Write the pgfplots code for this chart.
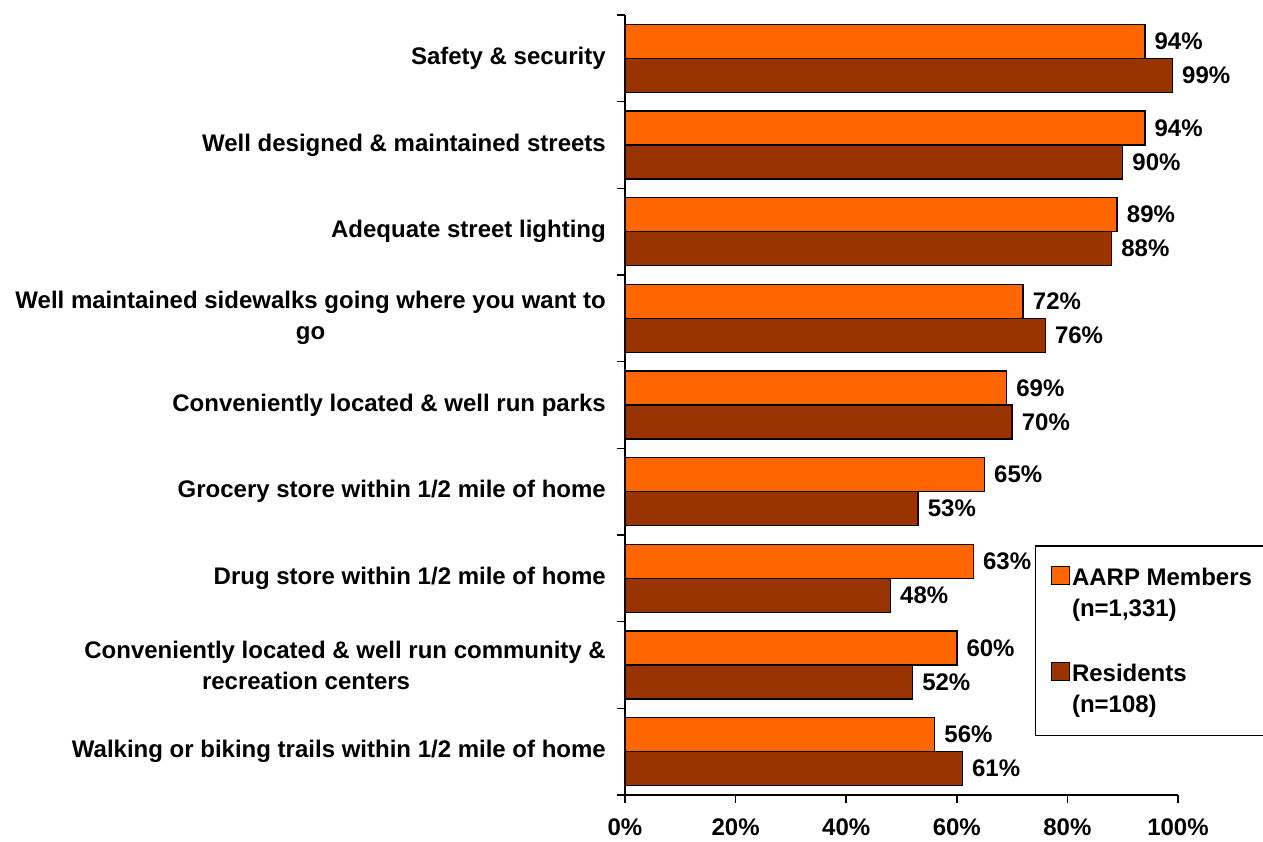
\documentclass[border=0pt]{standalone}
\usepackage{pgfplots}
\pgfplotsset{compat=1.18}
\usepackage{fontspec}
\setmainfont{Liberation Sans}
\definecolor{aarp}{HTML}{FF6600}
\definecolor{res}{HTML}{993300}
\newcommand\lf{\bfseries\fontsize{24}{31}\selectfont}
\begin{document}
\begin{tikzpicture}
\path[use as bounding box] (-625pt,-47pt) rectangle (638pt,795pt);
\begin{axis}[
  scale only axis, width=553pt, height=780pt,
  xbar, bar width=34pt,
  xmin=0, xmax=100, ymin=-0.5, ymax=8.5,
  axis x line*=bottom, axis y line*=left,
  axis line style={line width=1.5pt},
  tick style={line width=1.5pt, black},
  tick align=outside, major tick length=8pt,
  xtick={0,20,...,100},
  xticklabels={0\%,20\%,40\%,60\%,80\%,100\%},
  xticklabel style={font=\lf, yshift=-12pt},
  ytick={-0.5,0.5,...,8.5},
  yticklabels={},
  extra y ticks={0,1,2,3,4,5,6,7,8},
  extra y tick labels={
    Walking or biking trails within 1/2 mile of home,
    {Conveniently located \& well run community \&\\recreation centers\hspace*{78pt}},
    Drug store within 1/2 mile of home,
    Grocery store within 1/2 mile of home,
    Conveniently located \& well run parks,
    {Well maintained sidewalks going where you want to\\go},
    Adequate street lighting,
    Well designed \& maintained streets,
    Safety \& security},
  extra y tick style={major tick length=0pt, major tick style={draw=none},
    yticklabel style={font=\lf, align=center, inner sep=0pt, xshift=-19pt}},
  /pgf/number format/assume math mode=true,
  point meta=x,
  nodes near coords={\pgfmathprintnumber{\pgfplotspointmeta}\%},
  every node near coord/.append style={font=\lf, anchor=west, inner sep=0pt, xshift=9pt, black},
  legend style={at={(0.741,0.3205)}, anchor=north west, draw=black, line width=1.5pt,
    fill=white, font=\lf, cells={align=left, anchor=base west}, inner xsep=15pt, inner ysep=20pt,
    row sep=42pt},
  legend cell align=left,
  legend image code/.code={\draw[#1,draw=black,line width=1.5pt] (0pt,8pt) rectangle (18pt,26pt);},
]
\addplot[fill=aarp, draw=black, line width=1.5pt, bar shift=17pt] coordinates {
  (56,0) (60,1) (63,2) (65,3) (69,4) (72,5) (89,6) (94,7) (94,8)};
\addlegendentry{AARP Members\\(n=1,331)}
\addplot[fill=res, draw=black, line width=1.5pt, bar shift=-17pt] coordinates {
  (61,0) (52,1) (48,2) (53,3) (70,4) (76,5) (88,6) (90,7) (99,8)};
\addlegendentry{Residents\\(n=108)}
\end{axis}
\end{tikzpicture}
\end{document}
